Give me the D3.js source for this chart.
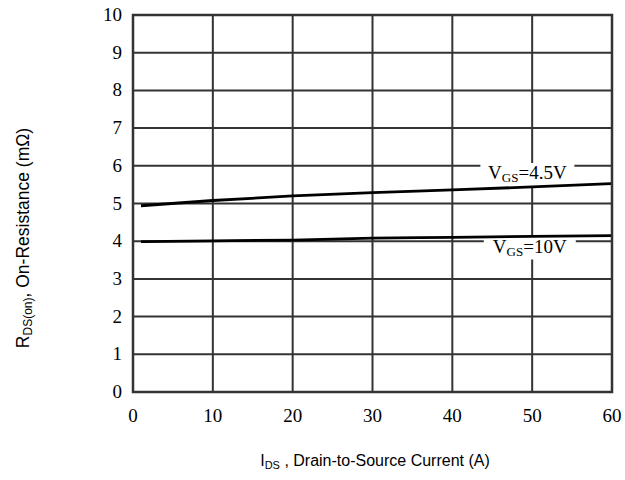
<!DOCTYPE html>
<html>
<head>
<meta charset="utf-8">
<script src="https://cdn.jsdelivr.net/npm/d3@7"></script>
<style>
body { margin: 0; background: #fff; }
</style>
</head>
<body>
<div id="chart"></div>
<script>
// data
var current = [1, 10, 20, 30, 40, 50, 60];
var vgs45 = [4.94, 5.08, 5.2, 5.29, 5.36, 5.44, 5.53];
var vgs10 = [3.99, 4.01, 4.03, 4.08, 4.1, 4.13, 4.15];
var xTicks = [0, 10, 20, 30, 40, 50, 60];
var yTicks = [0, 1, 2, 3, 4, 5, 6, 7, 8, 9, 10];

var svgWidth = 625;
var svgHeight = 480;
var margin = { top: 15, right: 13, bottom: 88, left: 133 };
var width = svgWidth - margin.left - margin.right;
var height = svgHeight - margin.top - margin.bottom;

var svg = d3.select("#chart")
    .append("svg")
    .attr("width", svgWidth)
    .attr("height", svgHeight);

var chartGroup = svg.append("g")
    .attr("transform", `translate(${margin.left}, ${margin.top})`);

var x = d3.scaleLinear().domain([0, 60]).range([0, width]);
var y = d3.scaleLinear().domain([0, 10]).range([height, 0]);

// grid
chartGroup.append("g").selectAll("line")
    .data(xTicks.slice(1, -1))
    .enter()
    .append("line")
    .attr("x1", d => x(d)).attr("x2", d => x(d))
    .attr("y1", 0).attr("y2", height)
    .attr("stroke", "#333").attr("stroke-width", 2);

chartGroup.append("g").selectAll("line")
    .data(yTicks.slice(1, -1))
    .enter()
    .append("line")
    .attr("x1", 0).attr("x2", width)
    .attr("y1", d => y(d)).attr("y2", d => y(d))
    .attr("stroke", "#333").attr("stroke-width", 2);

// curve labels with white boxes
function curveLabel(cx, baseline, volts, boxW) {
    var g = chartGroup.append("g");
    g.append("rect")
        .attr("x", x(cx) - boxW / 2).attr("y", y(baseline) - 16)
        .attr("width", boxW).attr("height", 23)
        .attr("fill", "#fff");
    var t = g.append("text")
        .attr("x", x(cx)).attr("y", y(baseline))
        .attr("text-anchor", "middle")
        .attr("font-family", "Liberation Serif, Times New Roman, serif")
        .attr("font-size", "19px")
        .attr("fill", "#000");
    t.append("tspan").text("V");
    t.append("tspan").attr("font-size", "13px").attr("dy", 3).text("GS");
    t.append("tspan").attr("dy", -3).text("=" + volts);
}
curveLabel(49.4, 5.65, "4.5V", 94);
curveLabel(49.7, 3.7, "10V", 92);

// curves
var line = d3.line()
    .x((d, i) => x(current[i]))
    .y(d => y(d))
    .curve(d3.curveMonotoneX);

[vgs45, vgs10].forEach(function(series) {
    chartGroup.append("path")
        .datum(series)
        .attr("d", line)
        .attr("fill", "none")
        .attr("stroke", "#000")
        .attr("stroke-width", 2.8);
});

// frame
chartGroup.append("rect")
    .attr("width", width).attr("height", height)
    .attr("fill", "none")
    .attr("stroke", "#333").attr("stroke-width", 2.5);

// tick labels
chartGroup.append("g").selectAll("text")
    .data(xTicks)
    .enter()
    .append("text")
    .attr("x", d => x(d))
    .attr("y", height + 30)
    .attr("text-anchor", "middle")
    .attr("font-family", "Liberation Serif, Times New Roman, serif")
    .attr("font-size", "19px")
    .text(d => d);

chartGroup.append("g").selectAll("text")
    .data(yTicks)
    .enter()
    .append("text")
    .attr("x", -11)
    .attr("y", d => y(d) + 6)
    .attr("text-anchor", "end")
    .attr("font-family", "Liberation Serif, Times New Roman, serif")
    .attr("font-size", "19px")
    .text(d => d);

// axis titles
var xTitle = svg.append("text")
    .attr("x", 375)
    .attr("y", 466)
    .attr("text-anchor", "middle")
    .attr("font-family", "Liberation Sans, Arial, sans-serif")
    .attr("font-size", "16px")
    .attr("fill", "#000");
xTitle.append("tspan").text("I");
xTitle.append("tspan").attr("font-size", "11px").attr("dy", 3).text("DS");
xTitle.append("tspan").attr("dy", -3).text(" , Drain-to-Source Current (A)");

var yTitle = svg.append("text")
    .attr("transform", "translate(29, 238) rotate(-90)")
    .attr("text-anchor", "middle")
    .attr("font-family", "Liberation Sans, Arial, sans-serif")
    .attr("font-size", "17.5px")
    .attr("fill", "#000");
yTitle.append("tspan").text("R");
yTitle.append("tspan").attr("font-size", "12px").attr("dy", 3).text("DS(on)");
yTitle.append("tspan").attr("dy", -3).text(", On-Resistance (mΩ)");
</script>
</body>
</html>
